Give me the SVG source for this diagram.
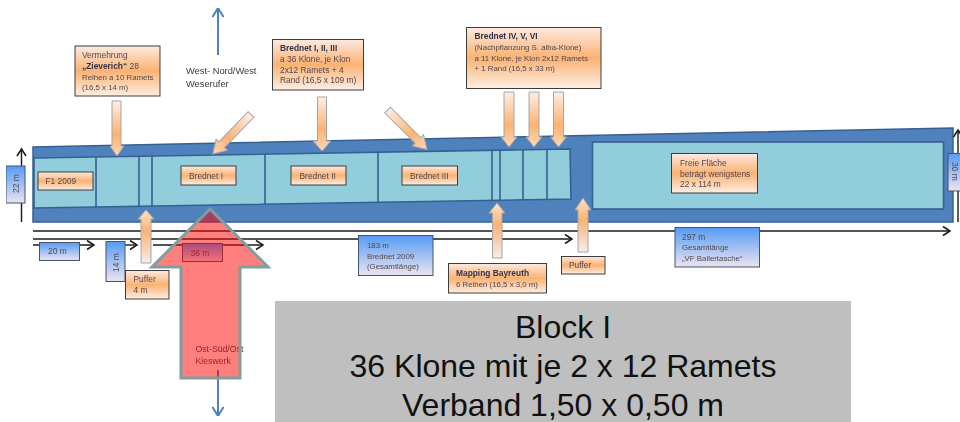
<svg xmlns="http://www.w3.org/2000/svg" width="960" height="422" viewBox="0 0 960 422">
<style>
text{font-family:"Liberation Sans",Arial,sans-serif;font-size:8.4px;fill:#54484e}
.s{font-size:7.85px}
.b{font-weight:bold;fill:#33334a}
.w{font-size:9.3px;fill:#3a3a3a}
.or{fill:url(#orange);stroke:#3c3c3c;stroke-width:1}
.bl{fill:url(#blue);stroke:#44546a;stroke-width:1}
.fd{fill:#92cddc;stroke:#366092;stroke-width:1.6}
.dv{stroke:#366092;stroke-width:1.6;fill:none}
.ad{fill:url(#down);stroke:#a6a6a6;stroke-width:1}
.au{fill:url(#up);stroke:#a6a6a6;stroke-width:1}
.ar{stroke:#1a1a1a;stroke-width:1.4;fill:none;marker-end:url(#open)}
.na{stroke:#4f81bd;stroke-width:2;fill:none;marker-end:url(#openb)}
.big{font-size:32px;fill:#111;text-anchor:middle}
.o{font-size:8.7px;fill:#444}
</style>
<defs>
<linearGradient id="orange" x1="0" y1="0" x2="0" y2="1"><stop offset="0" stop-color="#fde9e0"/><stop offset=".5" stop-color="#fbb273"/><stop offset="1" stop-color="#fdeee4"/></linearGradient>
<linearGradient id="blue" x1="0" y1="0" x2="0" y2="1"><stop offset="0" stop-color="#559bf5"/><stop offset="1" stop-color="#ece4f0"/></linearGradient>
<linearGradient id="down" x1="0" y1="0" x2="0" y2="1"><stop offset="0" stop-color="#fdeee6"/><stop offset=".6" stop-color="#fbb273"/><stop offset="1" stop-color="#fcd9b5"/></linearGradient>
<linearGradient id="up" x1="0" y1="1" x2="0" y2="0"><stop offset="0" stop-color="#f6ecec"/><stop offset=".6" stop-color="#fbb273"/><stop offset="1" stop-color="#fde2c8"/></linearGradient>
<marker id="open" markerUnits="userSpaceOnUse" markerWidth="12" markerHeight="12" refX="9" refY="6" orient="auto"><path d="M2 1.500L9 6L2 10.500" fill="none" stroke="#1a1a1a" stroke-width="1.500"/></marker>
<marker id="openb" markerUnits="userSpaceOnUse" markerWidth="14" markerHeight="14" refX="11" refY="7" orient="auto"><path d="M2 1.500L11 7L2 12.500" fill="none" stroke="#4f81bd" stroke-width="2"/></marker>
<filter id="soft" x="0" y="0" width="100%" height="100%"><feGaussianBlur stdDeviation="0.35"/></filter>
</defs>
<rect width="960" height="422" fill="#fff"/>
<g filter="url(#soft)">
<g id="plot">
<polygon points="33,147 953,128 953,222 33,222" fill="#4f81bd" stroke="#366092" stroke-width="1.500"/>
<polygon class="fd" points="34,158 570,149 571,199 34,208"/>
<rect class="fd" x="592.500" y="142" width="351" height="67"/>
<path class="dv" d="M96 157V208M139 156.500V207M152 156V206.500M265 154V204.500M378 152.500V202.500M492 150.500V200.500M500 150.500V200.500M523 150V200M547 149.500V199.500"/>
</g>
<g id="connectors">
<path class="ar" d="M33 231H950"/>
<path class="ar" d="M33 239H572"/>
<path class="ar" d="M33 245H94"/>
<path class="ar" d="M125 245H137"/>
<path class="ar" d="M153 245H263"/>
<path class="ar" d="M21.500 222V149"/>
<path class="ar" d="M958 222V130"/>
<path class="na" d="M218 55V8"/>
<path class="na" d="M218 370V416"/>
<polygon class="ad" points="112,101 121,101 121,146 124,146 117,156 110,146 112,146"/>
<polygon class="ad" points="317.500,97 326.500,97 326.500,141 331,141 322,151 313,141 317.500,141"/>
<polygon class="ad" points="504,92 514,92 514,137 517,137 509,147 501,137 504,137"/>
<polygon class="ad" points="529,92 539,92 539,137 542,137 534,147 526,137 529,137"/>
<polygon class="ad" points="553.500,92 563.500,92 563.500,137 566.500,137 558.500,147 550.500,137 553.500,137"/>
<polygon class="ad" transform="translate(251 114.500) rotate(44)" points="-4,0 4,0 4,42 8,42 0,55 -8,42 -4,42"/>
<polygon class="ad" transform="translate(387.500 110) rotate(-45)" points="-4,0 4,0 4,43 8,43 0,56 -8,43 -4,43"/>
<polygon class="au" points="146,210 154,219 151,219 151,263 141,263 141,219 138,219"/>
<polygon class="au" points="497,203 505,213 502,213 502,258 492.500,258 492.500,213 489,213"/>
<polygon class="au" points="583,198 591,210 588,210 588,252 578,252 578,210 575,210"/>
</g>
<g id="n-f1"><rect class="or" x="38" y="172" width="55" height="18"/><text x="45.500" y="184">F1 2009</text></g>
<g id="n-vermehrung"><rect class="or" x="75" y="46" width="85" height="50"/><text x="82" y="58">Vermehrung</text><text x="82" y="69"><tspan class="b">„Zieverich“</tspan> 28</text><text class="s" x="82" y="80">Reihen a 10 Ramets</text><text class="s" x="82" y="90">(16,5 x 14 m)</text></g>
<g id="n-west"><text class="w" x="186" y="74">West- Nord/West</text><text class="w" x="186" y="87">Weserufer</text></g>
<g id="n-b123"><rect class="or" x="272.500" y="39.500" width="91" height="50.500"/><text class="b" x="280" y="51">Brednet I, II, III</text><text x="280" y="62">a 36 Klone, je Klon</text><text x="280" y="73">2x12 Ramets + 4</text><text x="280" y="83">Rand  (16,5 x 109 m)</text></g>
<g id="n-b456"><rect class="or" x="466.500" y="27.500" width="134.500" height="61"/><text class="b" x="474.500" y="39">Brednet IV, V, VI</text><text class="s" x="474.500" y="50">(Nachpflanzung  S. alba-Klone)</text><text class="s" x="474.500" y="60.500">a 11 Klone, je Klon 2x12 Ramets</text><text class="s" x="474.500" y="70.500">+ 1 Rand (16,5 x  33 m)</text></g>
<g id="n-b1"><rect class="or" x="181" y="166" width="55" height="19"/><text x="189" y="178.500">Brednet I</text></g>
<g id="n-b2"><rect class="or" x="291" y="166" width="55" height="19"/><text x="299.500" y="178.500">Brednet II</text></g>
<g id="n-b3"><rect class="or" x="402" y="166" width="55.500" height="19"/><text x="410" y="178.500">Brednet III</text></g>
<g id="n-frei"><rect class="or" x="671.500" y="153.500" width="86" height="39.500"/><text x="680" y="166">Freie Fläche</text><text x="680" y="177">beträgt wenigstens</text><text x="680" y="187">22 x 114 m</text></g>
<g id="n-22"><rect class="bl" x="6" y="166" width="19" height="37"/><text transform="translate(18.500 193) rotate(-90)">22 m</text></g>
<g id="n-30"><rect class="bl" x="948" y="153.500" width="14" height="37.500"/><text transform="translate(952 162) rotate(90)">30 m</text></g>
<g id="n-20"><rect class="bl" x="39.500" y="242.500" width="40" height="18"/><text x="48" y="253.500">20 m</text></g>
<g id="n-14"><rect class="bl" x="106" y="241.500" width="19" height="40"/><text transform="translate(118.500 272) rotate(-90)">14 m</text></g>
<g id="n-puffer4"><rect class="or" x="125.500" y="270.500" width="43.500" height="28.500"/><text x="133.500" y="282">Puffer</text><text x="133.500" y="293">4 m</text></g>
<g id="n-36"><rect class="bl" x="182.500" y="243.500" width="40" height="18"/><text x="190.500" y="255.500">36 m</text></g>
<g id="n-183"><rect class="bl" x="358.500" y="235.500" width="74.500" height="40"/><text class="s" x="367" y="248">183 m</text><text class="s" x="367" y="259">Brednet 2009</text><text class="s" x="367" y="269">(Gesamtlänge)</text></g>
<g id="n-mapping"><rect class="or" x="448.500" y="263.500" width="98" height="29.500"/><text class="b" x="456" y="276">Mapping Bayreuth</text><text class="s" x="456" y="287">6 Reihen (16,5 x 3,0 m)</text></g>
<g id="n-puffer"><rect class="or" x="561.500" y="256.500" width="43.500" height="17.500"/><text x="569" y="268">Puffer</text></g>
<g id="n-297"><rect class="bl" x="675" y="227.500" width="84.500" height="39.500"/><text x="682" y="239.500">297 m</text><text class="s" x="682" y="250">Gesamtlänge</text><text class="s" x="682" y="260.500">„VF Ballertasche“</text></g>
<g id="n-ost"><text class="o" x="195.500" y="352">Ost-Süd/Ost</text><text class="o" x="195.500" y="364">Kieswerk</text>
<polygon points="210,209 268,267 240,267 240,378 181,378 181,267 152,267" fill="#ff0000" fill-opacity=".5" stroke="#7f9f9f" stroke-width="3"/></g>
</g>
<g id="n-block"><rect x="275" y="301" width="576" height="121" fill="#bfbfbf"/><text class="big" x="563" y="338">Block I</text><text class="big" x="563" y="377">36 Klone mit je 2 x 12 Ramets</text><text class="big" x="563" y="416">Verband 1,50 x 0,50 m</text></g>
</svg>
